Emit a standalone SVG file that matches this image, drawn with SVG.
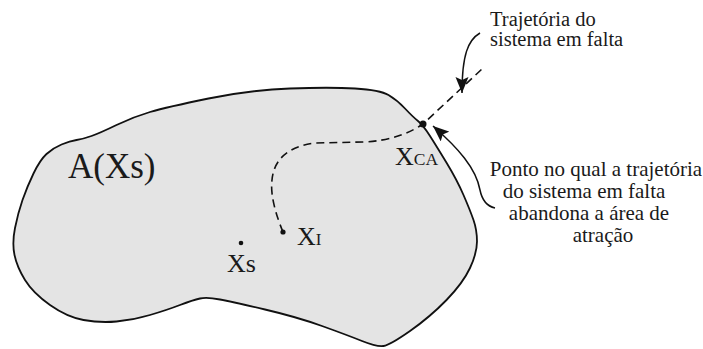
<svg xmlns="http://www.w3.org/2000/svg" width="703" height="349" viewBox="0 0 703 349">
<defs>
<style>
.t{font-family:'Liberation Serif','DejaVu Serif',serif;fill:#1a1a1a}
.blob{fill:#e4e4e4;stroke:#111;stroke-width:1.8}
.dash{fill:none;stroke:#111;stroke-width:1.6;stroke-dasharray:8 5}
.ptr{fill:none;stroke:#111;stroke-width:1.5}
.dot{fill:#111}
</style>
<marker id="ah" markerUnits="userSpaceOnUse" markerWidth="18" markerHeight="14" refX="16" refY="6.5" orient="auto">
<path d="M0,0 L16,6.5 L0,13 L3,6.5 z" fill="#111"/>
</marker>
</defs>
<rect width="703" height="349" fill="#fff"/>
<g id="area">
<path class="blob" d="M 14.5,255 Q 17,267 25,280 Q 33,293 50,305 Q 67,317 83.5,320 Q 100,323 116.5,321.5 Q 133,320 150,315 Q 167,310 180,305 Q 193,300 200,298.5 Q 207,297 220,299.5 Q 233,302 265,309.5 Q 297,317 322,326 Q 347,335 362,341 Q 377,347 383.5,346 Q 390,345 410,331 Q 430,317 446.5,300 Q 463,283 470,268 Q 477,253 477,241.5 Q 477,230 473.5,220 Q 470,210 463.5,195 Q 457,180 447,163.5 Q 437,147 430,136 Q 423,125 418,121 Q 413,117 405,108.5 Q 397,100 388.5,95 Q 380,90 355,88.5 Q 330,87 290,88.5 Q 250,90 208.5,98.5 Q 167,107 150,112 Q 133,117 116.5,125 Q 100,133 91.5,136 Q 83,139 76.5,140 Q 70,141 61.5,144.5 Q 53,148 46.5,154 Q 40,160 33.5,173.5 Q 27,187 22.5,200 Q 18,213 15,228 Q 12,243 14.5,255 Z"/>
<text class="t" font-family="Liberation Serif, serif" x="68" y="178" font-size="35">A(Xs)</text>
</g>
<g id="connectors">
<path class="dash" d="M 283,232 C 276,215 270,195 272,180 C 274,158 290,146 315,143 L 363,142 C 390,141 410,133 423,124 L 482,69"/>
<path class="ptr" d="M 480,33 C 468,40 462,55 462,93" marker-end="url(#ah)"/>
<path class="ptr" d="M 495,208 C 486,206 482,200 480,190 C 476,168 458,148 433,126" marker-end="url(#ah)"/>
</g>
<g id="xs">
<circle class="dot" cx="241" cy="243" r="2.3"/>
<text class="t" x="227" y="272" font-size="26">Xs</text>
</g>
<g id="xi">
<circle class="dot" cx="283" cy="232" r="2.6"/>
<text class="t" x="297" y="245" font-size="26">X<tspan font-size="17">I</tspan></text>
</g>
<g id="xca">
<circle class="dot" cx="423" cy="124" r="3.5"/>
<text class="t" x="395" y="165" font-size="26">X<tspan font-size="17.5">CA</tspan></text>
</g>
<g id="label-trajetoria">
<text class="t" x="490" y="26" font-size="20.5">Trajetória do</text>
<text class="t" x="490" y="46" font-size="20.5">sistema em falta</text>
</g>
<g id="label-ponto">
<text class="t" font-size="21" text-anchor="middle"><tspan x="596" y="176">Ponto no qual a trajetória</tspan><tspan x="584" y="198">do sistema em falta</tspan><tspan x="589" y="220">abandona a área de</tspan><tspan x="603" y="242">atração</tspan></text>
</g>
</svg>
